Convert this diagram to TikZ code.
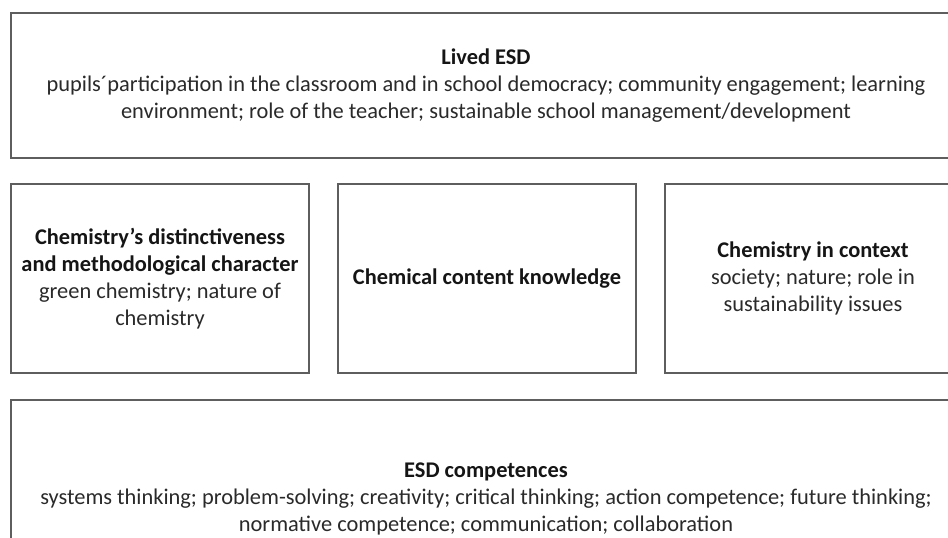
\documentclass[tikz,border=0pt]{standalone}
\usepackage{fontspec}
\setmainfont{Carlito}
\definecolor{linegray}{HTML}{5E5E5E}
\definecolor{txtgray}{HTML}{2A2A2A}
\definecolor{headgray}{HTML}{151515}
\begin{document}
\begin{tikzpicture}[x=1pt,y=-1pt,
  box/.style={draw=linegray, line width=1.9pt, fill=white, align=center,
    text=txtgray, font=\fontsize{22.4}{27}\selectfont, inner sep=0pt}]
\useasboundingbox (0,0) rectangle (948,538);
\clip (0,0) rectangle (948,538);
\fill[white] (0,0) rectangle (948,538);
\node[box, minimum width=950pt, minimum height=145pt] (lived) at (486,85.5)
  {\textcolor{headgray}{\textbf{Lived ESD}}\\
   pupils´participation in the classroom and in school democracy; community engagement; learning\\
   environment; role of the teacher; sustainable school management/development};
\node[box, minimum width=298pt, minimum height=189pt] (distinct) at (160,278.5)
  {\textcolor{headgray}{\textbf{Chemistry’s distinctiveness}}\\
   \textcolor{headgray}{\textbf{and methodological character}}\\
   green chemistry; nature of\\ chemistry};
\node[box, minimum width=298pt, minimum height=189pt] (content) at (487,278.5)
  {\textcolor{headgray}{\textbf{Chemical content knowledge}}};
\node[box, minimum width=296pt, minimum height=189pt] (context) at (813,278.5)
  {\textcolor{headgray}{\textbf{Chemistry in context}}\\
   society; nature; role in\\ sustainability issues};
\node[box, minimum width=950pt, minimum height=198pt] (esd) at (486,499)
  {\textcolor{headgray}{\textbf{ESD competences}}\\
   systems thinking; problem-solving; creativity; critical thinking; action competence; future thinking;\\
   normative competence; communication; collaboration};
\end{tikzpicture}
\end{document}
